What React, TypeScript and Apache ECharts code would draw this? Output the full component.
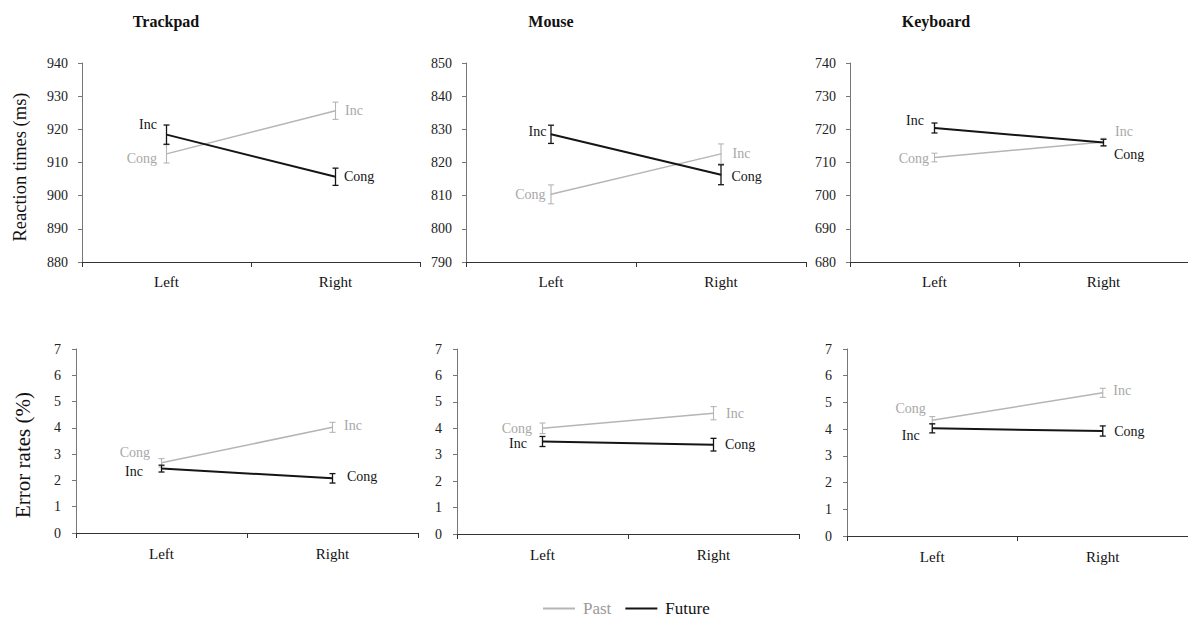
import React, { useEffect, useRef } from "react";
import * as echarts from "echarts";

const CATEGORIES = ["Left", "Right"];
const PANEL_TITLES = ["Trackpad", "Mouse", "Keyboard"];
const SERIES_NAMES = ["Past", "Future"];
const PAST_CONDITIONS = ["Cong", "Inc"];
const FUTURE_CONDITIONS = ["Inc", "Cong"];

// Reaction times (ms)
const RT_PAST_TRACKPAD = [912.6, 925.6];
const RT_PAST_TRACKPAD_ERR = [2.75, 2.6];
const RT_FUTURE_TRACKPAD = [918.4, 905.7];
const RT_FUTURE_TRACKPAD_ERR = [2.9, 2.6];
const RT_PAST_MOUSE = [810.4, 822.6];
const RT_PAST_MOUSE_ERR = [2.85, 3.0];
const RT_FUTURE_MOUSE = [828.5, 816.3];
const RT_FUTURE_MOUSE_ERR = [2.75, 3.0];
const RT_PAST_KEYBOARD = [711.5, 716.2];
const RT_PAST_KEYBOARD_ERR = [1.3, 1.1];
const RT_FUTURE_KEYBOARD = [720.4, 716.0];
const RT_FUTURE_KEYBOARD_ERR = [1.5, 1.0];

// Error rates (%)
const ER_PAST_TRACKPAD = [2.67, 4.02];
const ER_PAST_TRACKPAD_ERR = [0.16, 0.19];
const ER_FUTURE_TRACKPAD = [2.45, 2.08];
const ER_FUTURE_TRACKPAD_ERR = [0.13, 0.18];
const ER_PAST_MOUSE = [4.0, 4.57];
const ER_PAST_MOUSE_ERR = [0.2, 0.25];
const ER_FUTURE_MOUSE = [3.5, 3.38];
const ER_FUTURE_MOUSE_ERR = [0.19, 0.24];
const ER_PAST_KEYBOARD = [4.33, 5.36];
const ER_PAST_KEYBOARD_ERR = [0.14, 0.17];
const ER_FUTURE_KEYBOARD = [4.03, 3.93];
const ER_FUTURE_KEYBOARD_ERR = [0.17, 0.19];

const RT_AXIS = [
  { min: 880, max: 940, interval: 10 },
  { min: 790, max: 850, interval: 10 },
  { min: 680, max: 740, interval: 10 },
];
const ER_AXIS = { min: 0, max: 7, interval: 1 };

const PANELS = [
  { past: RT_PAST_TRACKPAD, pastErr: RT_PAST_TRACKPAD_ERR, future: RT_FUTURE_TRACKPAD, futureErr: RT_FUTURE_TRACKPAD_ERR, axis: RT_AXIS[0] },
  { past: RT_PAST_MOUSE, pastErr: RT_PAST_MOUSE_ERR, future: RT_FUTURE_MOUSE, futureErr: RT_FUTURE_MOUSE_ERR, axis: RT_AXIS[1] },
  { past: RT_PAST_KEYBOARD, pastErr: RT_PAST_KEYBOARD_ERR, future: RT_FUTURE_KEYBOARD, futureErr: RT_FUTURE_KEYBOARD_ERR, axis: RT_AXIS[2] },
  { past: ER_PAST_TRACKPAD, pastErr: ER_PAST_TRACKPAD_ERR, future: ER_FUTURE_TRACKPAD, futureErr: ER_FUTURE_TRACKPAD_ERR, axis: ER_AXIS },
  { past: ER_PAST_MOUSE, pastErr: ER_PAST_MOUSE_ERR, future: ER_FUTURE_MOUSE, futureErr: ER_FUTURE_MOUSE_ERR, axis: ER_AXIS },
  { past: ER_PAST_KEYBOARD, pastErr: ER_PAST_KEYBOARD_ERR, future: ER_FUTURE_KEYBOARD, futureErr: ER_FUTURE_KEYBOARD_ERR, axis: ER_AXIS },
];

// Layout (positions only)
const GRIDS = [
  { left: 82, top: 63, width: 338, height: 199 },
  { left: 466, top: 63, width: 340, height: 199 },
  { left: 850, top: 63, width: 343, height: 199 },
  { left: 76, top: 349, width: 342, height: 184 },
  { left: 457, top: 349, width: 342, height: 185 },
  { left: 847, top: 349, width: 348, height: 187 },
];
// [gap, dy] per panel -> [past, future] -> [Left, Right]
const LABEL_LAYOUT = [
  [[[9, 5], [9, 0]], [[9, -10], [8, 0]]],
  [[[5, 0], [11, 0]], [[4, -3], [10, 2]]],
  [[[5, 1], [11, -10]], [[10, -8], [10, 12]]],
  [[[11, -10], [11, -2]], [[18, 3], [14, -2]]],
  [[[10, 0], [12, 0]], [[15, 2], [11, 0]]],
  [[[6, -12], [10, -2]], [[12, 7], [11, 0]]],
];

const FONT = "'Liberation Serif', 'Times New Roman', serif";
const GRAY = "#b5b5b5";
const GRAY_TEXT = "#a8a8a8";
const BLACK = "#151515";

export default function App() {
  const ref = useRef<HTMLDivElement>(null);
  useEffect(() => {
    if (!ref.current) return;
    const chart = echarts.init(ref.current, null, { renderer: "svg" });

    const xAxis: any[] = [];
    const yAxis: any[] = [];
    const series: any[] = [];

    PANELS.forEach((p, i) => {
      const bottomRow = i >= 3;
      xAxis.push({
        type: "category",
        gridIndex: i,
        data: CATEGORIES,
        boundaryGap: true,
        axisLine: { lineStyle: { color: "#333", width: 1 } },
        axisTick: { show: true, length: 5, lineStyle: { color: "#333" } },
        axisLabel: { color: "#111", fontFamily: FONT, fontSize: 15, margin: bottomRow ? 13 : 12 },
        splitLine: { show: false },
      });
      yAxis.push({
        type: "value",
        gridIndex: i,
        min: p.axis.min,
        max: p.axis.max,
        interval: p.axis.interval,
        axisLine: { show: true, lineStyle: { color: "#777", width: 1 } },
        axisTick: { show: true, length: 4, lineStyle: { color: "#777" } },
        axisLabel: { color: "#222", fontFamily: FONT, fontSize: 14, margin: bottomRow ? 15 : 14 },
        splitLine: { show: false },
      });

      const groups = [
        { name: SERIES_NAMES[0], vals: p.past, errs: p.pastErr, conds: PAST_CONDITIONS, color: GRAY, text: GRAY_TEXT, width: 1.5, lay: LABEL_LAYOUT[i][0] },
        { name: SERIES_NAMES[1], vals: p.future, errs: p.futureErr, conds: FUTURE_CONDITIONS, color: BLACK, text: BLACK, width: 2, lay: LABEL_LAYOUT[i][1] },
      ];
      groups.forEach((g) => {
        series.push({
          type: "line",
          name: g.name,
          xAxisIndex: i,
          yAxisIndex: i,
          symbol: "circle",
          symbolSize: 1,
          itemStyle: { color: g.color },
          lineStyle: { color: g.color, width: g.width },
          data: g.vals.map((v, k) => ({
            value: v,
            label: {
              show: true,
              formatter: g.conds[k],
              position: k === 0 ? "left" : "right",
              distance: g.lay[k][0],
              offset: [0, g.lay[k][1]],
              color: g.text,
              fontFamily: FONT,
              fontSize: 14,
            },
          })),
          z: 3,
        });
        series.push({
          type: "custom",
          name: g.name + " error",
          xAxisIndex: i,
          yAxisIndex: i,
          data: g.vals.map((v, k) => [k, v - g.errs[k], v + g.errs[k]]),
          encode: { x: 0, y: [1, 2] },
          renderItem: (params: any, api: any) => {
            const x = api.value(0);
            const lo = api.coord([x, api.value(1)]);
            const hi = api.coord([x, api.value(2)]);
            const cx = lo[0];
            const w = 3;
            const style = { stroke: g.color, lineWidth: g.width === 2 ? 1.3 : 1.1 };
            return {
              type: "group",
              children: [
                { type: "line", shape: { x1: cx, y1: lo[1], x2: cx, y2: hi[1] }, style },
                { type: "line", shape: { x1: cx - w, y1: lo[1], x2: cx + w, y2: lo[1] }, style },
                { type: "line", shape: { x1: cx - w, y1: hi[1], x2: cx + w, y2: hi[1] }, style },
              ],
            };
          },
          z: 4,
        });
      });
    });

    const titleXs = [166, 551, 936];
    const graphic: any[] = PANEL_TITLES.map((t, k) => ({
      type: "text",
      x: titleXs[k],
      y: 21,
      style: { text: t, font: `bold 16px ${FONT}`, fill: "#111", align: "center", verticalAlign: "middle" },
    }));
    graphic.push({
      type: "text",
      x: 20,
      y: 167,
      rotation: Math.PI / 2,
      style: { text: "Reaction times (ms)", font: `18.5px ${FONT}`, fill: "#111", align: "center", verticalAlign: "middle" },
    });
    graphic.push({
      type: "text",
      x: 23,
      y: 455,
      rotation: Math.PI / 2,
      style: { text: "Error rates (%)", font: `21px ${FONT}`, fill: "#111", align: "center", verticalAlign: "middle" },
    });

    chart.setOption({
      animation: false,
      backgroundColor: "#ffffff",
      grid: GRIDS.map((g) => ({ ...g, containLabel: false })),
      xAxis,
      yAxis,
      series,
      graphic,
      legend: {
        left: 543,
        top: 600,
        padding: 0,
        icon: "rect",
        itemWidth: 32,
        itemHeight: 2,
        itemGap: 14,
        textStyle: { fontFamily: FONT, fontSize: 17, lineHeight: 16, color: "#111", padding: [0, 0, 0, 3] },
        data: [
          { name: SERIES_NAMES[0], textStyle: { color: "#9a9a9a" } },
          { name: SERIES_NAMES[1], textStyle: { color: "#111" } },
        ],
      },
    });
    return () => chart.dispose();
  }, []);
  return <div ref={ref} style={{ position: "absolute", left: 0, top: 0, width: 1188, height: 617 }} />;
}
